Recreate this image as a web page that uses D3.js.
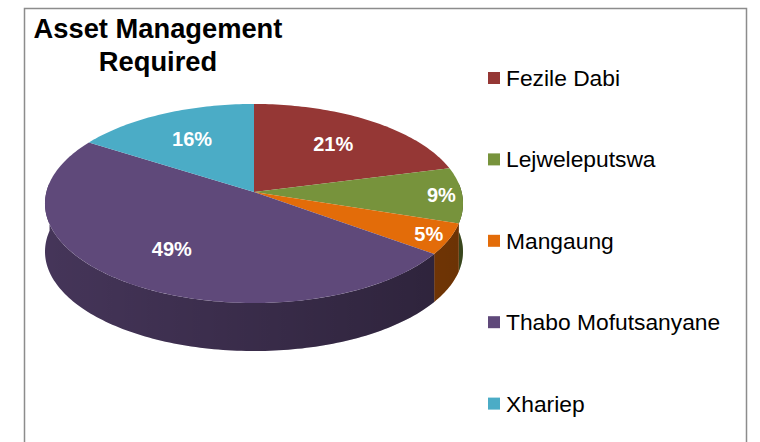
<!DOCTYPE html>
<html>
<head>
<meta charset="utf-8">
<script src="https://cdn.jsdelivr.net/npm/d3@7"></script>
<style>
  body { margin: 0; background: #fff; }
  svg { display: block; font-family: "Liberation Sans", Arial, sans-serif; }
</style>
</head>
<body>
<script>
// chart data
var titleLines = ["Asset Management", "Required"];
var districts = ["Fezile Dabi", "Lejweleputswa", "Mangaung", "Thabo Mofutsanyane", "Xhariep"];
var shares = [21, 9, 5, 49, 16];
var sliceColors = ["#953735", "#77933C", "#E36C09", "#5F497A", "#4BACC6"];

var width = 760, height = 442;

var svg = d3.select("body")
    .append("svg")
    .attr("width", width)
    .attr("height", height);

// frame (bottom edge sits below the visible area)
svg.append("path")
    .attr("d", "M24.5,442 L24.5,8.5 L746.5,8.5 L746.5,442")
    .attr("fill", "none")
    .attr("stroke", "#8c8c8c")
    .attr("stroke-width", 1.5);

// title
var title = svg.append("text")
    .attr("text-anchor", "middle")
    .attr("font-weight", "bold")
    .attr("font-size", "27.3px")
    .attr("fill", "#000");
title.selectAll("tspan")
    .data(titleLines)
    .enter()
    .append("tspan")
    .attr("x", 158)
    .attr("y", function(d, i){ return 38 + i * 33; })
    .text(function(d){ return d; });

// 3d pie geometry: a disc seen in slight perspective (back part shrinks)
var cx = 254, cy = 192, rx = 207.6, ry = 98.2, persp = 0.1156, depth = 48;

var color = d3.scaleOrdinal()
    .domain(districts)
    .range(sliceColors);

var pie = d3.pie()
    .sort(null)
    .value(function(d){ return d.value; });

var arcs = pie(districts.map(function(name, i){
    return {name: name, value: shares[i]};
}));

// project angle a (clockwise from 12 o'clock) at radius fraction f
function pt(a, f, dy){
    var u = f * Math.sin(a), v = f * Math.cos(a),
        s = 1 / (1 + persp * v);
    return [cx + rx * u * s, cy - ry * v * s + (dy || 0)];
}

function rimPoints(a0, a1, dy){
    var n = Math.max(2, Math.ceil((a1 - a0) / 0.02));
    return d3.range(n + 1).map(function(i){
        return pt(a0 + (a1 - a0) * i / n, 1, dy);
    });
}

var line = d3.line();

// side shading gradient, darker to the right
var defs = svg.append("defs");
var grad = defs.append("linearGradient")
    .attr("id", "sideShade")
    .attr("gradientUnits", "userSpaceOnUse")
    .attr("x1", cx - rx).attr("x2", cx + rx)
    .attr("y1", 0).attr("y2", 0);
grad.append("stop").attr("offset", "0%").attr("stop-color", "#000").attr("stop-opacity", 0);
grad.append("stop").attr("offset", "100%").attr("stop-color", "#000").attr("stop-opacity", 0.35);

// outer walls, only the front half is visible
var front = arcs.filter(function(d){
    return Math.min(d.endAngle, 1.5 * Math.PI) > Math.max(d.startAngle, 0.5 * Math.PI);
});

var sideG = svg.append("g").attr("class", "sides");
front.forEach(function(d){
    var s0 = Math.max(d.startAngle, 0.47 * Math.PI),
        s1 = Math.min(d.endAngle, 1.53 * Math.PI);
    var pts = rimPoints(s0, s1, 0).concat(rimPoints(s0, s1, depth).reverse());
    sideG.append("path")
        .attr("d", line(pts) + "Z")
        .attr("fill", d3.color(color(d.data.name)).darker(0.9));
    sideG.append("path")
        .attr("d", line(pts) + "Z")
        .attr("fill", "url(#sideShade)");
});

// top faces
svg.append("g")
    .attr("class", "tops")
    .selectAll("path")
    .data(arcs)
    .enter()
    .append("path")
    .attr("d", function(d){
        return line([[cx, cy]].concat(rimPoints(d.startAngle, d.endAngle, 0))) + "Z";
    })
    .attr("fill", function(d){ return color(d.data.name); });

// percentage labels
var total = d3.sum(shares);
svg.append("g")
    .selectAll("text")
    .data(arcs)
    .enter()
    .append("text")
    .attr("text-anchor", "middle")
    .attr("font-weight", "bold")
    .attr("font-size", "20px")
    .attr("fill", "#fff")
    .attr("transform", function(d){
        var mid = (d.startAngle + d.endAngle) / 2,
            f = d.value < 10 ? 0.9 : 0.66;
        var p = pt(mid, f, 7);
        return "translate(" + p[0] + "," + p[1] + ")";
    })
    .text(function(d){ return Math.round(d.value / total * 100) + "%"; });

// legend
var legend = svg.append("g")
    .selectAll("g")
    .data(districts)
    .enter()
    .append("g")
    .attr("transform", function(d, i){ return "translate(488," + (78 + i * 81.4) + ")"; });

legend.append("rect")
    .attr("x", 0)
    .attr("y", -6)
    .attr("width", 12)
    .attr("height", 12)
    .attr("fill", function(d){ return color(d); });

legend.append("text")
    .attr("x", 18)
    .attr("y", 8)
    .attr("font-size", "22.8px")
    .attr("fill", "#000")
    .text(function(d){ return d; });
</script>
</body>
</html>
